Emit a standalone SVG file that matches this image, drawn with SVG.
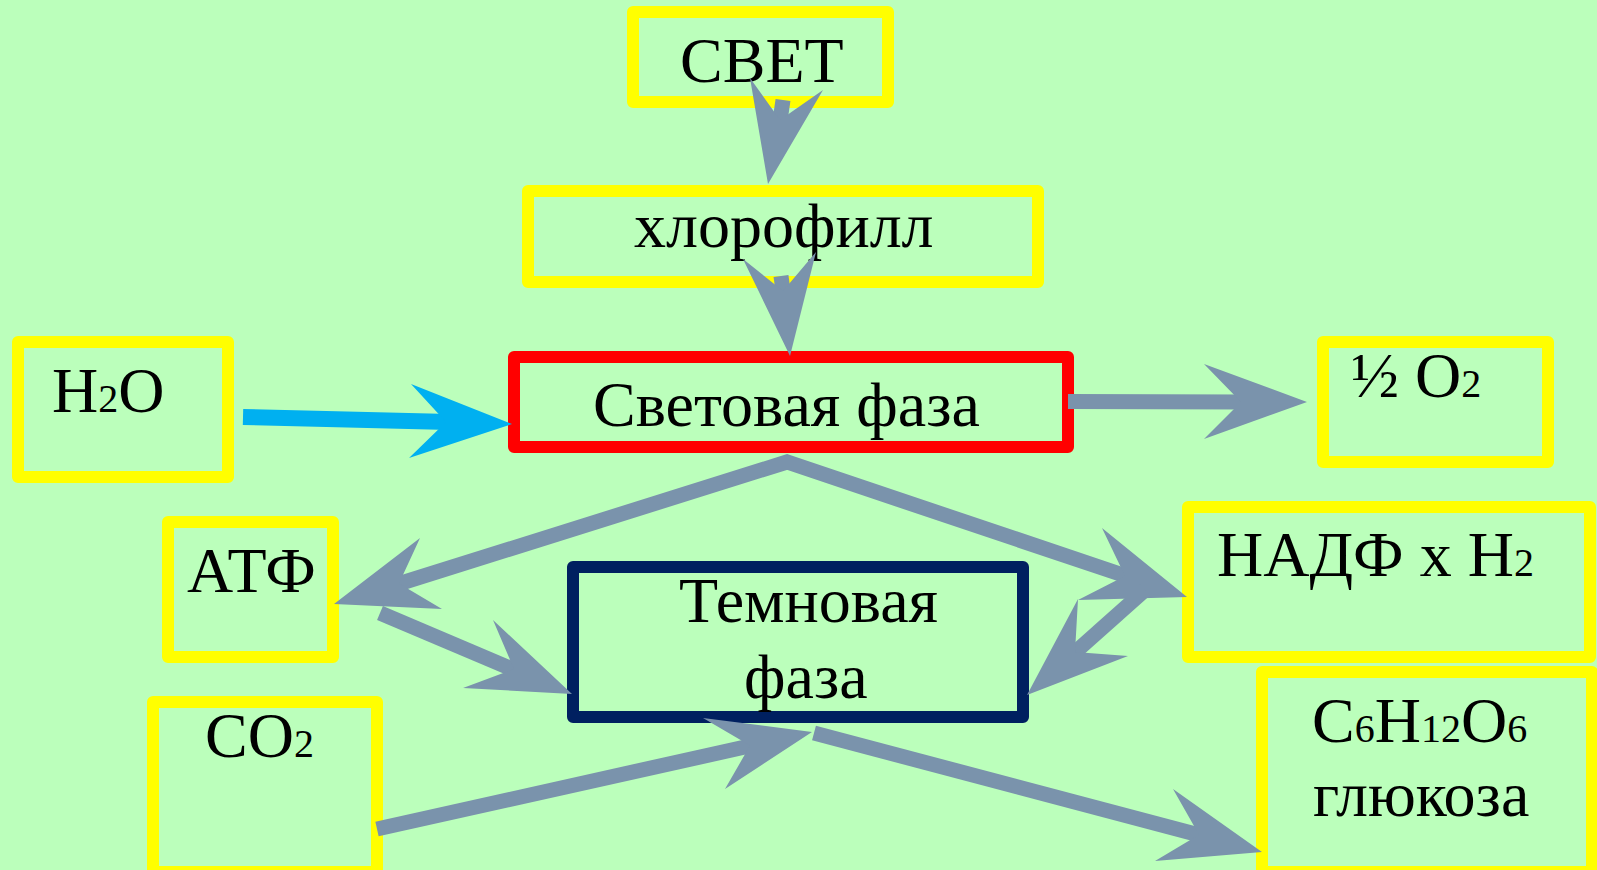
<svg xmlns="http://www.w3.org/2000/svg" width="1597" height="870" viewBox="0 0 1597 870">
<style>
.box{fill:none;stroke:#FFFF00;stroke-width:12;stroke-linejoin:round}
.red{stroke:#FF0000}
.navy{stroke:#002060}
.t{font-family:"Liberation Serif","Times New Roman",serif;font-size:64px;fill:#000}
.sub{font-size:40px}
.shaft{stroke:#7A93AC;stroke-width:15;fill:none;stroke-linecap:butt}
.head{fill:#7A93AC}
.blue{stroke:#00B0F0;stroke-width:16}
.bhead{fill:#00B0F0}
</style>
<rect x="0" y="0" width="1597" height="870" fill="#BBFFBB"/>
<g id="svet">
<rect class="box" x="633" y="12" width="255" height="90"/>
<text class="t" x="680" y="82">СВЕТ</text>
</g>
<g id="chlorophyll">
<rect class="box" x="528" y="191" width="510" height="91"/>
<text class="t" x="634" y="247">хлорофилл</text>
</g>
<g id="light-phase">
<rect class="box red" x="514" y="357" width="554" height="90"/>
<text class="t" x="593" y="426">Световая фаза</text>
</g>
<g id="h2o">
<rect class="box" x="18" y="342" width="210" height="135"/>
<text class="t" x="52" y="412">H<tspan class="sub">2</tspan>O</text>
</g>
<g id="o2">
<rect class="box" x="1323" y="342" width="225" height="120"/>
<text class="t" x="1351" y="397">½ O<tspan class="sub">2</tspan></text>
</g>
<g id="atp">
<rect class="box" x="168" y="522" width="165" height="135"/>
<text class="t" x="187" y="592">АТФ</text>
</g>
<g id="dark-phase">
<rect class="box navy" x="573" y="567" width="450" height="150"/>
<text class="t" x="679" y="622">Темновая</text>
<text class="t" x="744" y="698">фаза</text>
</g>
<g id="nadph">
<rect class="box" x="1188" y="507" width="402" height="150"/>
<text class="t" x="1217" y="576">НАДФ x H<tspan class="sub">2</tspan></text>
</g>
<g id="co2">
<rect class="box" x="153" y="702" width="224" height="170"/>
<text class="t" x="205" y="757">CO<tspan class="sub">2</tspan></text>
</g>
<g id="glucose">
<rect class="box" x="1262" y="672" width="330" height="200"/>
<text class="t" x="1312" y="742">C<tspan class="sub">6</tspan>H<tspan class="sub">12</tspan>O<tspan class="sub">6</tspan></text>
<text class="t" x="1313" y="816">глюкоза</text>
</g>
<g id="connectors">
<line class="shaft" x1="783" y1="100" x2="779" y2="128" stroke-width="14"/>
<polygon class="head" points="768,184 823,90 780,120 750,78"/>
<line class="shaft" x1="781" y1="276" x2="784" y2="298" stroke-width="14"/>
<polygon class="head" points="790,356 816,252 783,291 743,259"/>
<line class="blue" x1="243" y1="417" x2="450" y2="422"/>
<polygon class="bhead" points="512,424 409,458 446,422 411,384"/>
<line class="shaft" x1="1068" y1="401.5" x2="1246" y2="402"/>
<polygon class="head" points="1307,402 1204,439 1241,402 1204,364"/>
<path class="shaft" d="M395,585 L787,462 L1129,577" stroke-linejoin="miter"/>
<polygon class="head" points="334,604 442,609 399,583.5 420,538"/>
<polygon class="head" points="1187,597 1102,528 1125,576 1078,600"/>
<line class="shaft" x1="1145" y1="590" x2="1072" y2="655"/>
<polygon class="head" points="1027,695 1128,656 1075,652 1078,599"/>
<line class="shaft" x1="380" y1="613" x2="517" y2="671"/>
<polygon class="head" points="572,694 463,688 514,669 493,620"/>
<line class="shaft" x1="377" y1="829" x2="754" y2="745"/>
<polygon class="head" points="812,732 725,789 750,745.6 703,718"/>
<line class="shaft" x1="814" y1="733" x2="1203" y2="836"/>
<polygon class="head" points="1262,852 1155,861 1199,834.7 1173,789"/>
</g>
</svg>
